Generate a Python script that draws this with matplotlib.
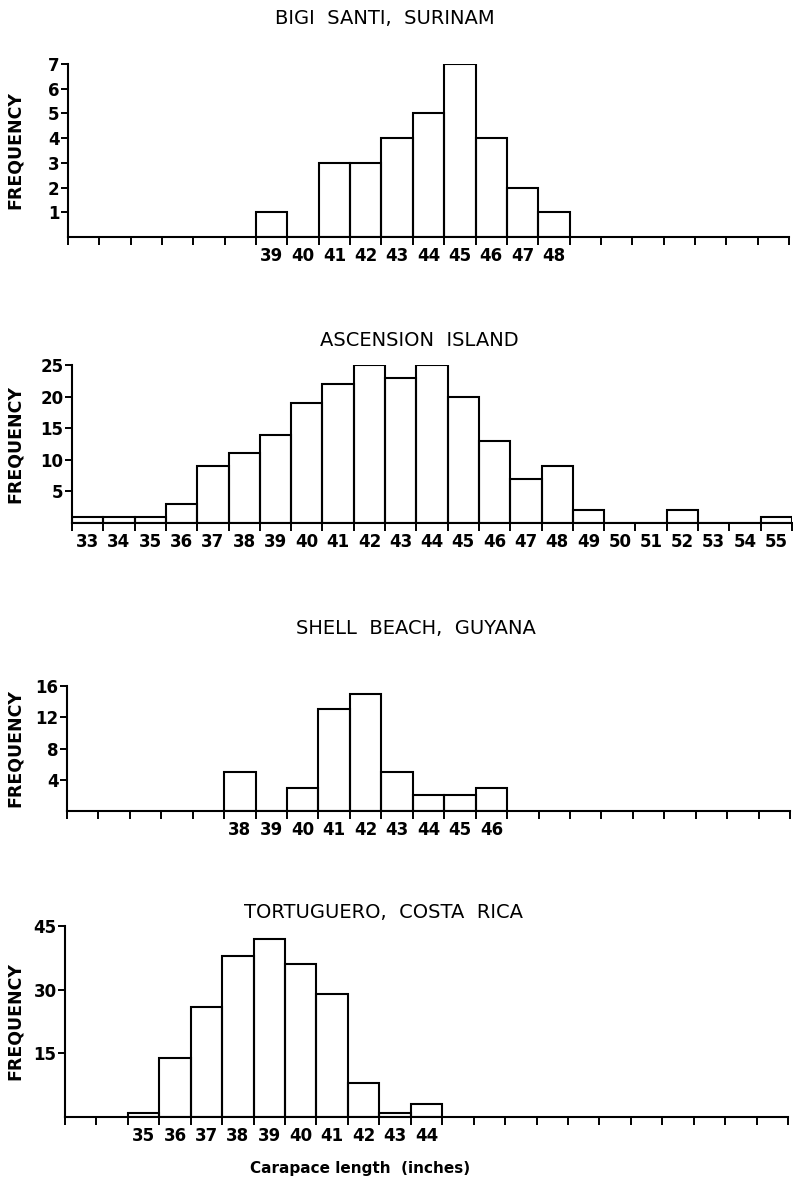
import matplotlib
matplotlib.use('Agg')
import matplotlib.pyplot as plt
from matplotlib.ticker import FixedLocator, NullFormatter

# carapace length classes (inches) and frequencies
bigi_bins = [39, 40, 41, 42, 43, 44, 45, 46, 47, 48]
bigi_freq = [1, 0, 3, 3, 4, 5, 7, 4, 2, 1]

ascension_bins = [33, 34, 35, 36, 37, 38, 39, 40, 41, 42, 43, 44,
                  45, 46, 47, 48, 49, 50, 51, 52, 53, 54, 55]
ascension_freq = [1, 1, 1, 3, 9, 11, 14, 19, 22, 25, 23, 25,
                  20, 13, 7, 9, 2, 0, 0, 2, 0, 0, 1]

shell_bins = [38, 39, 40, 41, 42, 43, 44, 45, 46]
shell_freq = [5, 0, 3, 13, 15, 5, 2, 2, 3]

tortuguero_bins = [35, 36, 37, 38, 39, 40, 41, 42, 43, 44]
tortuguero_freq = [1, 14, 26, 38, 42, 36, 29, 8, 1, 3]

titles = ['BIGI  SANTI,  SURINAM', 'ASCENSION  ISLAND',
          'SHELL  BEACH,  GUYANA', 'TORTUGUERO,  COSTA  RICA']
y_ticks = [[1, 2, 3, 4, 5, 6, 7], [5, 10, 15, 20, 25],
           [4, 8, 12, 16], [15, 30, 45]]
y_max = [7, 25, 16, 45]
x_min, x_max = 33, 56

W, H = 793, 1181
fig = plt.figure(figsize=(W / 100, H / 100), dpi=100)

# axes boxes in pixels: left, right, top, bottom
boxes = [(68, 789, 64, 237), (72, 792, 365, 523),
         (67, 790, 686, 811), (65, 788, 926, 1117)]
title_pos = [(385, 19), (419, 340), (416, 628), (384, 912)]

panels = [(bigi_bins, bigi_freq), (ascension_bins, ascension_freq),
          (shell_bins, shell_freq), (tortuguero_bins, tortuguero_freq)]

for i, (bins, freq) in enumerate(panels):
    l, r, t, b = boxes[i]
    ax = fig.add_axes([l / W, 1 - b / H, (r - l) / W, (b - t) / H])
    ax.bar(bins, freq, width=1, align='edge', fill=False,
           edgecolor='black', linewidth=1.5)
    ax.set_xlim(x_min, x_max)
    ax.set_ylim(0, y_max[i])

    for s in ['top', 'right']:
        ax.spines[s].set_visible(False)
    for s in ['left', 'bottom']:
        ax.spines[s].set_linewidth(1.5)

    # unlabeled ticks on class boundaries, labels centred under each class
    ax.xaxis.set_major_locator(FixedLocator(range(x_min, x_max + 1)))
    ax.xaxis.set_major_formatter(NullFormatter())
    ax.set_xticks([k + 0.5 for k in bins], minor=True)
    ax.set_xticklabels([str(k) for k in bins], minor=True,
                       fontsize=12, fontweight='bold')
    ax.tick_params(axis='x', which='major', direction='out', length=6, width=1.4)
    ax.tick_params(axis='x', which='minor', length=0, pad=7)

    ax.set_yticks(y_ticks[i])
    ax.set_yticklabels([str(v) for v in y_ticks[i]], fontsize=12, fontweight='bold')
    ax.tick_params(axis='y', direction='out', length=5, width=1.4, pad=1)

    ax.set_ylabel('FREQUENCY', fontsize=12.5, fontweight='bold')
    ax.yaxis.set_label_coords(24 / W, 1 - (t + b) / 2 / H, transform=fig.transFigure)

    tx, ty = title_pos[i]
    fig.text(tx / W, 1 - ty / H, titles[i], ha='center', va='center', fontsize=14)

fig.text(360 / W, 1 - 1168 / H, 'Carapace length  (inches)',
         ha='center', va='center', fontsize=11, fontweight='bold')

fig.savefig('out.png', dpi=100)
